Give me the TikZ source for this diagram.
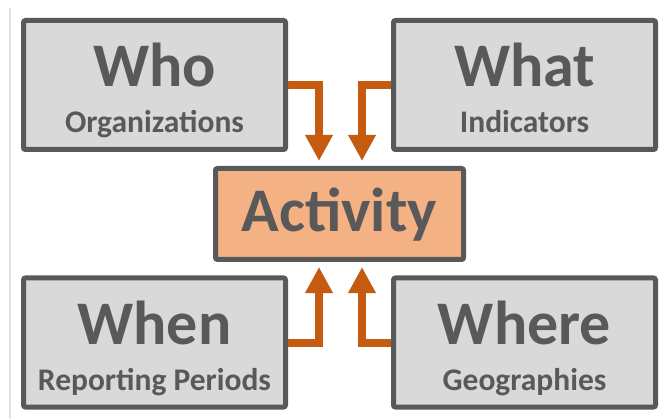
\documentclass[tikz,border=0pt]{standalone}
\usepackage{fontspec}
\setmainfont{Carlito}
\usetikzlibrary{arrows.meta}
\definecolor{boxgray}{HTML}{D9D9D9}
\definecolor{edgegray}{HTML}{595959}
\definecolor{actfill}{HTML}{F4B183}
\definecolor{flowc}{HTML}{C55A11}
\tikzset{
  qbox/.style={draw=edgegray,fill=boxgray,line width=5pt,rounded corners=2pt,
    minimum width=262pt,minimum height=129pt,inner sep=0pt},
  abox/.style={draw=edgegray,fill=actfill,line width=5pt,rounded corners=2pt,
    minimum width=248pt,minimum height=91pt,inner sep=0pt},
  bigtxt/.style={text=edgegray,font=\bfseries\fontsize{62}{62}\selectfont,anchor=base,inner sep=0pt},
  smalltxt/.style={text=edgegray,font=\bfseries\fontsize{31.5}{31.5}\selectfont,anchor=base,inner sep=0pt},
  flow/.style={draw=flowc,line width=8pt,-{Triangle[width=26pt,length=26pt]},shorten >=5pt}
}
\begin{document}
\begin{tikzpicture}[x=1pt,y=-1pt]
\useasboundingbox (0,0) rectangle (663,419);
\draw[line width=2pt,black!12](10,8)--(10,419);
% the four question boxes
\node[qbox] (who) at (154.5,85) {};
\node[qbox] (what) at (524.5,85) {};
\node[qbox] (when) at (154.5,342.5) {};
\node[qbox] (where) at (524.5,342.5) {};
% activity
\node[abox] (act) at (339.5,214) {};
\node[bigtxt] (actT) at ([yshift=-18pt]act.center) {Activity};
% labels
\node[bigtxt] (whoT) at ([yshift=-2pt]who.center) {Who};
\node[smalltxt] (whoS) at ([yshift=-48pt]who.center) {Organizations};
\node[bigtxt] (whatT) at ([yshift=-2pt]what.center) {What};
\node[smalltxt] (whatS) at ([yshift=-48pt]what.center) {Indicators};
\node[bigtxt] (whenT) at ([yshift=-2pt]when.center) {When};
\node[smalltxt] (whenS) at ([yshift=-48pt]when.center) {Reporting Periods};
\node[bigtxt] (whereT) at ([yshift=-2pt]where.center) {Where};
\node[smalltxt] (whereS) at ([yshift=-48pt]where.center) {Geographies};
% arrows into the activity
\draw[flow](who.east)-|([xshift=-20.5pt]act.north);
\draw[flow](what.west)-|([xshift=22.5pt]act.north);
\draw[flow](when.east)-|([xshift=-20.5pt]act.south);
\draw[flow](where.west)-|([xshift=22.5pt]act.south);
\end{tikzpicture}
\end{document}
